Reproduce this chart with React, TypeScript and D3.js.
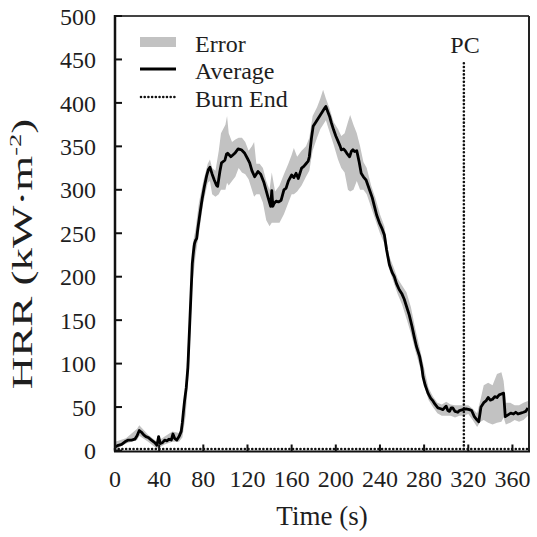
import React from "react";
import * as d3 from "d3";

// Average HRR series (time s, value kW/m2)
const avgT = [0,3,6,9,12,15,18,20,22,24,26,28,30,33,36,38,39.5,41,43,45,47,49,51,52.5,54,56,58,60,61,62,63,64.5,66,67,68,69,70,71,72,73,74,75,77,79,81,83,84.5,86,88,90,92,93,95,96.5,99.5,101,102,105,108.5,111.5,114.5,117.5,120,122,124,126.5,129.5,132,135,138.5,141,142,143,144,146,148,150.5,153,155,157,160,162,164,166,169,171,173,175,176,178,179.5,182,184,186,188,190,191,193,194.5,196,198,200,202,204,205,207,208.5,210,212.5,214,215.5,217,219,221,223,225,227.5,230.5,233,235,237,239.5,242,244,246,248.5,251,253,255,257.5,260,262,264,266.5,269,271,273,276,278,279,281,283.5,286,288,290,292.5,295,297,299,300,301.5,303,304.5,306,308,310.5,312,315,318,321,323,325.5,328,329.5,331.5,334,336,338,340,342,344,346,348,350,352,353.5,356,358.5,361,363,365,367.5,370,372,374];
const avgV = [4,6,7,10,12,12,13,17,23,21,18,16,15,12,9,6,16,8,9,12,11,13,12,19,14,12,16,22,32,45,57,72,95,125,155,185,215,228,238,242,244,255,273,290,304,316,323,326,318,311,305,304,321,331,334,341,342,338,342,347,346,342,336,331,322,315,321,318,308,292,281,299,281,284,287,286,288,300,302,310,317,314,319,313,325,327,330,333,338,360,373,378,382,386,390,394,396,389,384,377,369,362,356,350,346,347,345,342,338,344,346,344,345,333,319,315,311,300,291,281,271,262,255,248,231,214,205,200,192,185,180,174,166,156,143,131,120,108,95,85,75,66,60,57,53,49,48,47,50,51,46,45,49,49,45,44,46,47,48,47,46,39,35,33,50,55,57,61,58,59,62,61,64,65,66,39,41,43,42,44,42,43,44,45,49];

// Error band (time, lower, upper)
const errT = [0,10,20,22,30,38,45,52,58,61,64,67,70,73,76,80,84,86,88,91,94,96,98,100,101.5,103,106,109,112,115,118,121,124,126,128,131,134,137,140,142,145,149,153,157,160,162,165,169,173,176,179,183,186,188.5,191,194,198,202,205,208,211,213,216,219,222,225,228,232,236,240,244,248,252,256,260,264,268,272,276,280,284,288,292,296,300,304,308,312,316,320,324,328,331,334,338,342,346,350,352,354,358,362,366,370,374];
const errLo = [1,8,12,17,10,2,7,10,10,15,40,95,190,225,250,285,308,310,295,292,295,300,300,300,308,305,310,315,325,320,318,312,300,292,295,295,285,265,258,262,262,262,272,285,295,295,298,305,315,322,345,360,370,375,380,368,352,335,325,320,300,298,300,310,300,300,295,280,265,250,238,210,195,180,168,152,135,115,97,75,58,50,43,40,40,40,38,40,40,42,35,27,33,35,32,30,32,33,38,30,32,35,33,35,40];
const errHi = [10,14,25,29,18,10,16,22,20,35,75,145,235,255,285,310,330,335,325,322,345,365,370,375,385,365,355,358,360,360,355,345,350,355,330,330,325,310,300,320,298,305,318,330,340,348,338,345,350,360,385,395,405,415,405,395,378,370,362,365,378,386,375,365,350,332,325,305,290,272,258,225,212,198,190,182,165,140,118,95,72,62,55,53,56,53,52,52,52,52,48,43,58,75,78,75,88,90,80,55,55,52,52,55,57];

// Burn-end marker series
const burnT = [0, 316, 316];
const burnV = [0, 0, 446];
const burnT2 = [316, 375];
const burnV2 = [0, 0];

const xTicks = [0,40,80,120,160,200,240,280,320,360];
const yTicks = [0,50,100,150,200,250,300,350,400,450,500];
const legendItems = ["Error", "Average", "Burn End"];

const FONT = "'Liberation Serif', 'Times New Roman', serif";
const TXT = "#1e1e1e";
const DOT = { stroke: "#111", strokeWidth: 2.6, strokeDasharray: "0.01 3.7", strokeLinecap: "round" as const };

export default function App() {
  const x = d3.scaleLinear().domain([0, 375]).range([115, 529]);
  const y = d3.scaleLinear().domain([0, 500]).range([450.5, 16]);

  const avgData = avgT.map((t, i) => [t, avgV[i]] as [number, number]);
  const errData = errT.map((t, i) => ({ t, lo: errLo[i], hi: errHi[i] }));

  const line = d3.line<[number, number]>().x(d => x(d[0])).y(d => y(d[1]));
  const area = d3.area<{ t: number; lo: number; hi: number }>()
    .x(d => x(d.t)).y0(d => y(d.lo)).y1(d => y(d.hi));

  const burn1 = burnT.map((t, i) => [t, burnV[i]] as [number, number]);
  const burn2 = burnT2.map((t, i) => [t, burnV2[i]] as [number, number]);

  const x0 = x(0), x1 = x(375), yb = y(0), yt = y(500);
  const legY = [42, 69, 97];

  return (
    <svg width={537} height={537} style={{ position: "absolute", left: 0, top: 0, background: "#fff" }}
      fontFamily={FONT}>
      <rect x={0} y={0} width={537} height={537} fill="#fff" />
      {/* error band */}
      <path d={area(errData) || ""} fill="#c2c2c2" stroke="none" />
      {/* burn end dotted */}
      <path d={line(burn1) || ""} fill="none" {...DOT} transform="translate(0,-1.5)" />
      <path d={line(burn2) || ""} fill="none" {...DOT} transform="translate(0,-1.5)" />
      {/* average */}
      <path d={line(avgData) || ""} fill="none" stroke="#000" strokeWidth={2.8} strokeLinejoin="round" />

      {/* frame */}
      <line x1={x0} x2={x1} y1={yt} y2={yt} stroke="#444" strokeWidth={2} />
      <line x1={x1} x2={x1} y1={yt} y2={yb + 1} stroke="#222" strokeWidth={2} />
      <line x1={x0} x2={x0} y1={yt - 1} y2={yb + 1} stroke="#111" strokeWidth={2.5} />
      <line x1={x0 - 1} x2={x1 + 1} y1={yb + 1} y2={yb + 1} stroke="#111" strokeWidth={2} />

      {/* y ticks */}
      {yTicks.map(v => (
        <g key={"y" + v}>
          <line x1={x0} x2={x0 + 7} y1={y(v)} y2={y(v)} stroke="#111" strokeWidth={2} />
          <text x={96} y={y(v)} dy="0.36em" textAnchor="end" fontSize={24} fill={TXT}>{v}</text>
        </g>
      ))}
      {/* x ticks */}
      {xTicks.map(t => (
        <g key={"x" + t}>
          <line x1={x(t)} x2={x(t)} y1={yb + 1} y2={yb - 6} stroke="#111" strokeWidth={2} />
          <text x={x(t)} y={487} textAnchor="middle" fontSize={24} fill={TXT}>{t}</text>
        </g>
      ))}

      {/* axis titles */}
      <text x={322} y={525} textAnchor="middle" fontSize={27} fill={TXT}>Time (s)</text>
      <g transform="translate(32,254) rotate(-90) scale(1.55,1)">
        <text x={0} y={0} textAnchor="middle" fontSize={29} fill={TXT}>
          HRR (kW·m<tspan dy={-11} fontSize={17}>-2</tspan><tspan dy={11}>)</tspan>
        </text>
      </g>

      {/* PC label */}
      <text x={465} y={53} textAnchor="middle" fontSize={24} fill={TXT}>PC</text>

      {/* legend */}
      <rect x={140} y={legY[0] - 5} width={36} height={10} fill="#c2c2c2" />
      <line x1={140} x2={176} y1={legY[1]} y2={legY[1]} stroke="#000" strokeWidth={3} />
      <line x1={141} x2={176} y1={legY[2]} y2={legY[2]} {...DOT} />
      {legendItems.map((s, i) => (
        <text key={s} x={195} y={legY[i] + 10} fontSize={24} fill={TXT}>{s}</text>
      ))}
    </svg>
  );
}
